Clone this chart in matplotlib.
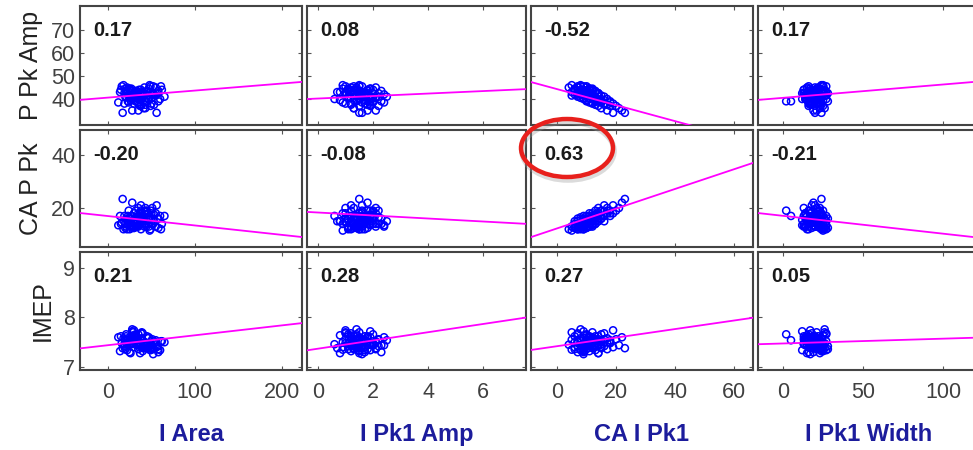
import numpy as np
import matplotlib
matplotlib.use("Agg")
import matplotlib.pyplot as plt
from matplotlib.patches import Ellipse

plt.rcParams['font.family'] = ['Liberation Sans', 'DejaVu Sans']

# column (x) variables
x_names = ['I Area', 'I Pk1 Amp', 'CA I Pk1', 'I Pk1 Width']
i_area = [22, 35, 48, 15, 30, 55, 40, 25, 62, 33, 18, 45, 28, 38, 52, 20, 42, 31, 58, 24,
          36, 47, 14, 29, 50, 39, 26, 60, 34, 44, 21, 37, 53, 27, 41, 32, 65, 19, 46, 35,
          23, 49, 30, 56, 38, 43, 28, 17,
          31, 44, 27, 52, 38, 19, 35, 47, 24, 58, 33, 41, 29, 16, 50, 37, 22, 45, 34, 61,
          26, 39, 48, 30, 43, 20, 55, 36, 28, 46, 33, 12, 40, 51, 25, 38, 57, 31, 42, 23,
          35, 49, 27, 44, 32, 39, 21, 53]
i_pk1_amp = [1.2, 1.6, 0.9, 1.8, 1.4, 2.1, 1.0, 1.7, 1.3, 2.4, 1.5, 0.7, 1.9, 1.1, 1.6, 2.2,
             1.4, 0.8, 1.8, 1.3, 2.0, 1.5, 1.2, 2.5, 1.7, 1.0, 1.4, 1.9, 1.6, 2.3, 1.1, 1.5,
             1.8, 0.6, 1.3, 2.0, 1.7, 1.2, 1.5, 2.1, 1.4, 1.9, 1.0, 1.6, 2.2, 1.3, 1.8, 1.5,
             1.5, 1.1, 1.9, 1.3, 1.7, 2.0, 1.4, 0.9, 1.6, 2.3, 1.2, 1.8, 1.5, 1.0, 2.1, 1.4,
             1.7, 1.2, 1.9, 1.6, 0.8, 1.5, 2.2, 1.3, 1.8, 1.1, 1.6, 2.0, 1.4, 1.7, 1.3, 2.4,
             1.5, 1.0, 1.9, 1.2, 1.6, 2.1, 1.4, 1.8, 0.9, 1.5, 1.7, 2.0, 1.3, 1.6, 1.1, 1.9]
ca_i_pk1 = [4, 5, 5, 6, 6, 7, 7, 7, 8, 8, 8, 9, 9, 9, 9, 10, 10, 10, 10, 11, 11, 11, 11, 12,
            12, 12, 12, 13, 13, 13, 14, 14, 14, 15, 15, 15, 16, 16, 17, 17, 18, 18, 19, 19,
            20, 21, 22, 23,
            6, 9, 11, 8, 13, 10, 7, 12, 15, 9, 11, 14, 5, 10, 12, 16, 8, 13, 11, 7, 14, 9,
            12, 10, 17, 6, 11, 13, 8, 15, 10, 12, 9, 14, 11, 16, 7, 13, 10, 12, 18, 9, 11,
            14, 8, 12, 10, 13]
i_pk1_width = [15, 20, 25, 13, 18, 22, 27, 16, 21, 14, 24, 19, 12, 26, 17, 23, 20, 15, 28, 18,
               22, 14, 25, 19, 16, 21, 13, 27, 24, 17, 20, 23, 15, 19, 26, 2, 18, 22, 14, 21,
               5, 25, 17, 20, 16, 23, 19, 24,
               18, 22, 15, 25, 20, 13, 27, 17, 23, 19, 14, 21, 26, 16, 24, 20, 12, 22, 18, 27,
               15, 21, 19, 25, 17, 23, 14, 20, 26, 16, 22, 19, 24, 13, 21, 18, 28, 15, 23, 20,
               17, 25, 19, 22, 14, 21, 16, 24]

# row (y) variables
y_names = ['P Pk Amp', 'CA P Pk', 'IMEP']
p_pk_amp = [45, 43, 46, 44, 42, 45, 43, 41, 44, 42, 46, 43, 40, 44, 42, 41, 45, 43, 39, 42,
            44, 40, 43, 41, 38, 42, 44, 40, 43, 39, 41, 37, 42, 40, 36, 39, 41, 38, 40, 35,
            39, 37, 38, 34, 37, 36, 35, 34,
            43.5, 40.5, 44.5, 45.5, 39.5, 42.5, 41.5, 44.5, 38.5, 43.5, 40.5, 42.5, 41.5,
            45.5, 40.5, 39.5, 42.5, 43.5, 38.5, 45.5, 39.5, 41.5, 42.5, 39.5, 37.5, 44.5,
            41.5, 40.5, 43.5, 41.5, 43.5, 38.5, 41.5, 42.5, 44.5, 37.5, 42.5, 40.5, 39.5,
            43.5, 38.5, 45.5, 41.5, 38.5, 40.5, 42.5, 43.5, 37.5]
ca_p_pk = [12, 13, 11.5, 14, 12.5, 13, 15, 12, 14, 13, 12, 15, 13.5, 12, 16, 14, 13, 15, 12.5,
           16, 14, 13, 17, 15, 14, 16, 13, 17, 15, 14, 16, 18, 15, 17, 16, 19, 17, 15, 18, 20,
           17, 19, 18, 21, 19, 20, 22, 23.4,
           15, 13, 17, 14, 15, 17, 13.5, 14, 19, 16, 13, 17, 13, 14.5, 18, 17, 15.5, 19, 15,
           12, 15, 14, 16.5, 12.5, 19, 12.5, 18, 16, 12.5, 16, 15.5, 13.5, 17, 20, 14, 21, 16,
           14, 16, 15, 18, 12, 16, 18.5, 16.5, 17, 13, 17.5]
imep = [7.45, 7.55, 7.35, 7.62, 7.40, 7.50, 7.68, 7.30, 7.52, 7.44, 7.58, 7.38, 7.72, 7.48,
        7.26, 7.55, 7.42, 7.64, 7.36, 7.50, 7.46, 7.60, 7.32, 7.54, 7.40, 7.70, 7.48, 7.34,
        7.56, 7.44, 7.62, 7.28, 7.52, 7.46, 7.38, 7.66, 7.50, 7.42, 7.58, 7.36, 7.54, 7.48,
        7.74, 7.40, 7.56, 7.44, 7.60, 7.38,
        7.50, 7.42, 7.60, 7.36, 7.54, 7.46, 7.66, 7.40, 7.52, 7.30, 7.58, 7.44, 7.70, 7.48,
        7.38, 7.56, 7.34, 7.62, 7.46, 7.52, 7.28, 7.58, 7.42, 7.64, 7.50, 7.36, 7.54, 7.44,
        7.76, 7.40, 7.48, 7.60, 7.32, 7.56, 7.46, 7.68, 7.42, 7.52, 7.38, 7.58, 7.50, 7.34,
        7.62, 7.44, 7.54, 7.40, 7.66, 7.48]

# correlation shown in each panel
corr = [['0.17', '0.08', '-0.52', '0.17'],
        ['-0.20', '-0.08', '0.63', '-0.21'],
        ['0.21', '0.28', '0.27', '0.05']]

# least-squares line (slope, intercept) per panel
slopes = [[0.0306, 0.54, -0.348, 0.058],
          [-0.0355, -0.565, 0.372, -0.0673],
          [0.002, 0.083, 0.00864, 0.00097]]
intercepts = [[40.6, 40.2, 44.3, 40.5],
              [16.97, 18.3, 12.3, 17.05],
              [7.44, 7.37, 7.42, 7.475]]

x_data = [i_area, i_pk1_amp, ca_i_pk1, i_pk1_width]
y_data = [p_pk_amp, ca_p_pk, imep]

x_lims = [(-32, 223), (-0.4, 7.56), (-8.8, 66.4), (-15.6, 123)]
x_ticks = [[0, 100, 200], [0, 2, 4, 6], [0, 20, 40, 60], [0, 50, 100]]
y_lims = [(28.7, 80.4), (5.3, 49.4), (6.94, 9.32)]
y_ticks = [[40, 50, 60, 70], [20, 40], [7, 8, 9]]

W, H = 973, 450
fig = plt.figure(figsize=(W / 100, H / 100), dpi=100)

col_left = [80, 307, 531, 758]
col_w = [222, 219, 222, 222]
row_top = [6, 130, 252]
row_h = [119, 117, 118]

for r in range(3):
    for c in range(4):
        ax = fig.add_axes([col_left[c] / W, 1 - (row_top[r] + row_h[r]) / H,
                           col_w[c] / W, row_h[r] / H])
        ax.scatter(x_data[c], y_data[r], s=26, facecolors='none',
                   edgecolors='#0000ff', linewidths=1.1, zorder=2)
        xs = np.array(x_lims[c])
        ax.plot(xs, slopes[r][c] * xs + intercepts[r][c], color='#ff00ff', lw=1.3, zorder=3)
        ax.set_xlim(x_lims[c])
        ax.set_ylim(y_lims[r])
        ax.set_xticks(x_ticks[c])
        ax.set_yticks(y_ticks[r])
        ax.tick_params(direction='in', length=3, width=0.8, color='#555555',
                       top=True, right=True, labelsize=15.5, labelcolor='#404040')
        ax.tick_params(axis='x', pad=9)
        if c > 0:
            ax.set_yticklabels([])
        if r < 2:
            ax.set_xticklabels([])
        for sp in ax.spines.values():
            sp.set_color('#444444')
            sp.set_linewidth(1.5)
        ax.text(13 / col_w[c], 1 - 24 / row_h[r], corr[r][c], transform=ax.transAxes,
                fontsize=14.5, fontweight='bold', color='#1a1a1a', va='center', ha='left')
        if c == 0:
            ax.set_ylabel(y_names[r], fontsize=18, color='#222222', labelpad=6)
        if r == 2:
            ax.set_xlabel(x_names[c], fontsize=17, fontweight='bold', color='#1c1c9c',
                          labelpad=14)

# highlight around the strongest correlation
shadow = Ellipse((568 / W, 1 - 151 / H), 92 / W, 58 / H, transform=fig.transFigure,
                 fill=False, edgecolor='#999999', lw=4, alpha=0.35, zorder=9)
fig.add_artist(shadow)
ring = Ellipse((567 / W, 1 - 148 / H), 92 / W, 58 / H, transform=fig.transFigure,
               fill=False, edgecolor='#e8201c', lw=3.2, zorder=10)
fig.add_artist(ring)

fig.savefig('out.png', dpi=100)
